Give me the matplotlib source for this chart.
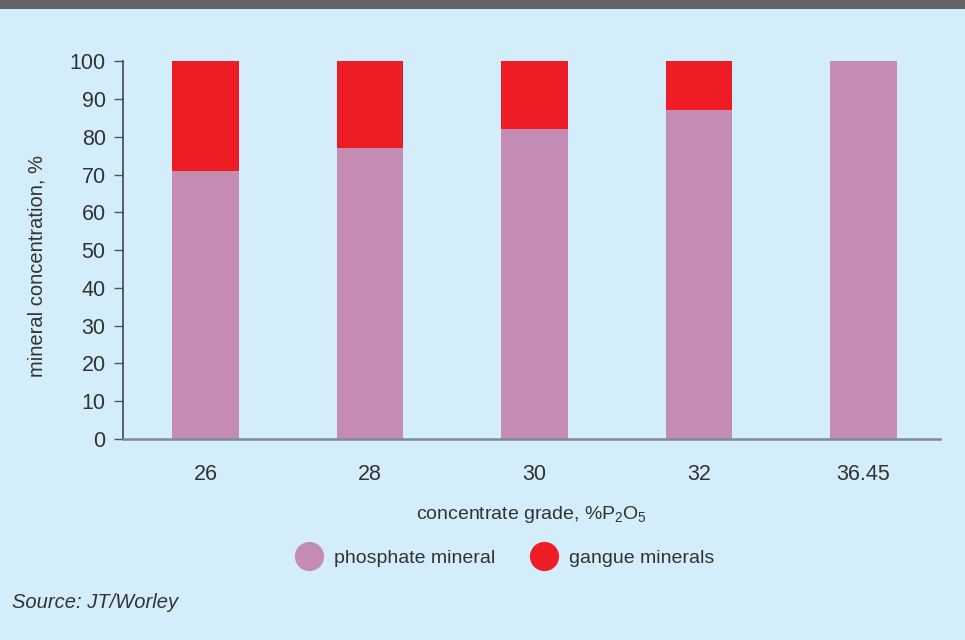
import matplotlib
matplotlib.use("Agg")
import matplotlib.pyplot as plt
from matplotlib.lines import Line2D
from matplotlib.patches import Rectangle

# Mineral make-up of the concentrate at each grade
grades = ["26", "28", "30", "32", "36.45"]
phosphate = [71, 77, 82, 87, 100]
gangue = [100 - p for p in phosphate]

BG = "#d3eefa"
PINK = "#c48cb3"
RED = "#ee1c25"
TEXT = "#333333"

plt.rcParams["font.family"] = ["Liberation Sans", "DejaVu Sans"]
plt.rcParams["mathtext.fontset"] = "custom"
plt.rcParams["mathtext.rm"] = "Liberation Sans"
plt.rcParams["mathtext.default"] = "rm"

fig = plt.figure(figsize=(9.65, 6.4), dpi=100, facecolor=BG)

# dark band across the top edge
fig.patches.append(Rectangle((0, 1 - 9 / 640), 1, 9 / 640, transform=fig.transFigure,
                             facecolor="#636466", edgecolor="none", zorder=0))

ax = fig.add_axes([123 / 965, 1 - 439 / 640, (940 - 123) / 965, (439 - 61.3) / 640])
ax.set_facecolor(BG)

x = range(len(grades))
width = 0.407
ax.bar(x, phosphate, width, color=PINK, zorder=2)
ax.bar(x, gangue, width, bottom=phosphate, color=RED, zorder=2)

ax.set_xlim(-0.5015, 4.465)
ax.set_ylim(0, 100)
ax.set_yticks(range(0, 101, 10))
ax.set_xticks(list(x))
ax.set_xticklabels(grades)

for side in ("top", "right"):
    ax.spines[side].set_visible(False)
ax.spines["left"].set_color("#444444")
ax.spines["left"].set_linewidth(1.2)
ax.spines["bottom"].set_color("#7d8b92")
ax.spines["bottom"].set_linewidth(1.8)
ax.spines["bottom"].set_zorder(3)

ax.tick_params(axis="y", direction="out", length=6.5, width=1.0, color="#555555",
               labelsize=15.5, labelcolor=TEXT, pad=6)
ax.tick_params(axis="x", length=0, labelsize=15.5, labelcolor=TEXT, pad=18)

ax.set_ylabel("mineral concentration, %", fontsize=14.5, color=TEXT)
ax.yaxis.set_label_coords(-0.094, 0.457)
ax.set_xlabel("concentrate grade, %P$_2$O$_5$", fontsize=14, color=TEXT, labelpad=14)

handles = [
    Line2D([], [], marker="o", ls="", ms=20, color=PINK, label="phosphate mineral"),
    Line2D([], [], marker="o", ls="", ms=20, color=RED, label="gangue minerals"),
]
leg = fig.legend(handles=handles, loc="center", bbox_to_anchor=(502 / 965, 1 - 558 / 640),
                 ncol=2, frameon=False, fontsize=14, handletextpad=0.3, columnspacing=1.5)
for t in leg.get_texts():
    t.set_color(TEXT)

fig.text(12 / 965, 1 - 602 / 640, "Source: JT/Worley", fontsize=14.5, style="italic",
         color=TEXT, va="center", ha="left")

fig.savefig("out.png", dpi=100, facecolor=BG)
